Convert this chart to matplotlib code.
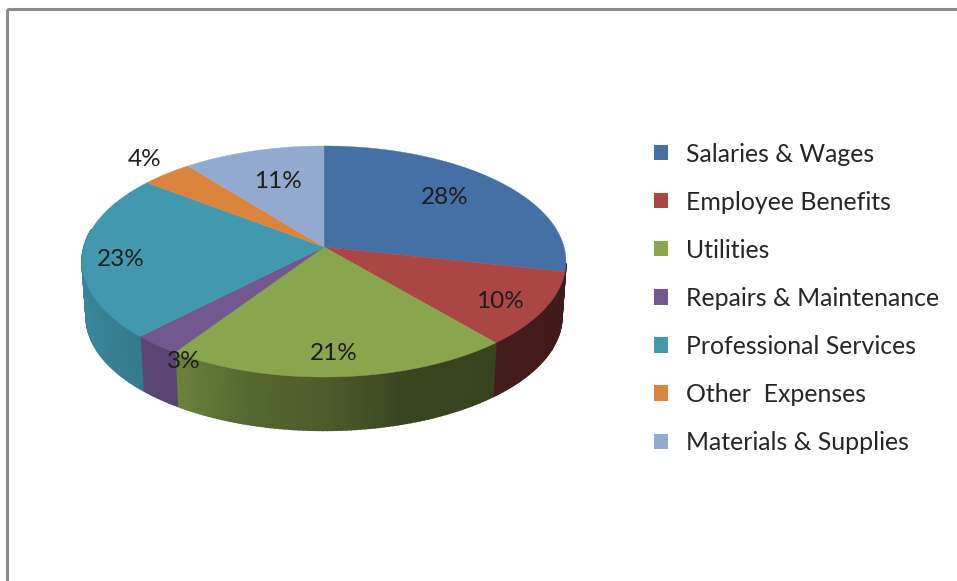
import numpy as np
import matplotlib
matplotlib.use("Agg")
import matplotlib.pyplot as plt
from matplotlib.patches import Patch, Polygon, Rectangle

categories = ["Salaries & Wages", "Employee Benefits", "Utilities", "Repairs & Maintenance",
              "Professional Services", "Other  Expenses", "Materials & Supplies"]
values = [28.4, 10.4, 20.6, 2.9, 23.1, 3.9, 10.7]
pct_labels = ["28%", "10%", "21%", "3%", "23%", "4%", "11%"]
colors = ["#4570a6", "#aa4643", "#89a54e", "#71588f", "#4198af", "#db843d", "#93a9cf"]

label_xy = [(445, 197), (500, 302), (334, 353), (184, 361), (121, 259), (145, 159), (278, 181)]
CX, CY, A, B, K = 324.0, 247.0, 240.0, 113.7, 0.1256
DEPTH, SHRINK = 55.5, 0.983
FS = 17.5
LEG_FS = 17.9
FONT = "Lato"
shade_x = [80, 140, 178, 250, 330, 400, 494, 570]
shade_f = [0.88, 0.80, 0.78, 0.62, 0.55, 0.42, 0.40, 0.38]

fig = plt.figure(figsize=(9.57, 5.81), dpi=100, facecolor="white")
ax = fig.add_axes([0, 0, 1, 1])
ax.set_xlim(0, 957)
ax.set_ylim(581, 0)
ax.axis("off")


def project(theta, scale=1.0, drop=0.0):
    u, v = np.sin(theta), np.cos(theta)
    w = 1 + K * v
    return CX + scale * A * u / w, CY - scale * B * v / w + drop


ax.add_patch(Rectangle((7, 9), 1100, 700, fill=False, edgecolor="#8c8c8c", lw=2.2))

edges = np.concatenate([[0], np.cumsum(values)]) / np.sum(values) * 2 * np.pi

# side walls
for i, col in enumerate(colors):
    ts = np.linspace(edges[i], edges[i + 1], max(3, int(np.degrees(edges[i + 1] - edges[i]))))
    rgb = np.array(matplotlib.colors.to_rgb(col))
    for t0, t1 in zip(ts[:-1], ts[1:]):
        mid = (t0 + t1) / 2
        if np.cos(mid) > 0.15 or (np.sin(mid) > 0 and np.cos(mid) > -0.15):
            continue
        x0, y0 = project(t0)
        x1, y1 = project(t1)
        x2, y2 = project(t1, SHRINK, DEPTH)
        x3, y3 = project(t0, SHRINK, DEPTH)
        f = np.interp((x0 + x1) / 2, shade_x, shade_f)
        c = rgb * f
        ax.add_patch(Polygon([(x0, y0), (x1, y1), (x2, y2), (x3, y3)], closed=True,
                             facecolor=c, edgecolor=c, lw=1.2))

# top face
for i, col in enumerate(colors):
    ts = np.linspace(edges[i], edges[i + 1], 200)
    xs, ys = project(ts)
    pts = np.column_stack([np.r_[CX, xs], np.r_[CY, ys]])
    ax.add_patch(Polygon(pts, closed=True, facecolor=col, edgecolor=col, lw=0.3))

for (x, y), s in zip(label_xy, pct_labels):
    ax.text(x, y, s, ha="center", va="center", fontsize=FS, family=FONT, color="#1c1c1c")

handles = [Patch(facecolor=c, edgecolor="none", label=n) for c, n in zip(colors, categories)]
fpx = LEG_FS / 0.72
leg = ax.legend(handles=handles, loc="upper left", bbox_to_anchor=(654 / 957, 1 - 142.5 / 581),
                bbox_transform=ax.transAxes, frameon=False, borderpad=0, borderaxespad=0,
                prop={"family": FONT, "size": LEG_FS}, labelspacing=(47.2 - 0.89 * fpx) / fpx,
                handlelength=14 / fpx, handleheight=14 / fpx, handletextpad=18 / fpx,
                labelcolor="#262626")

fig.savefig("out.png", dpi=100)
